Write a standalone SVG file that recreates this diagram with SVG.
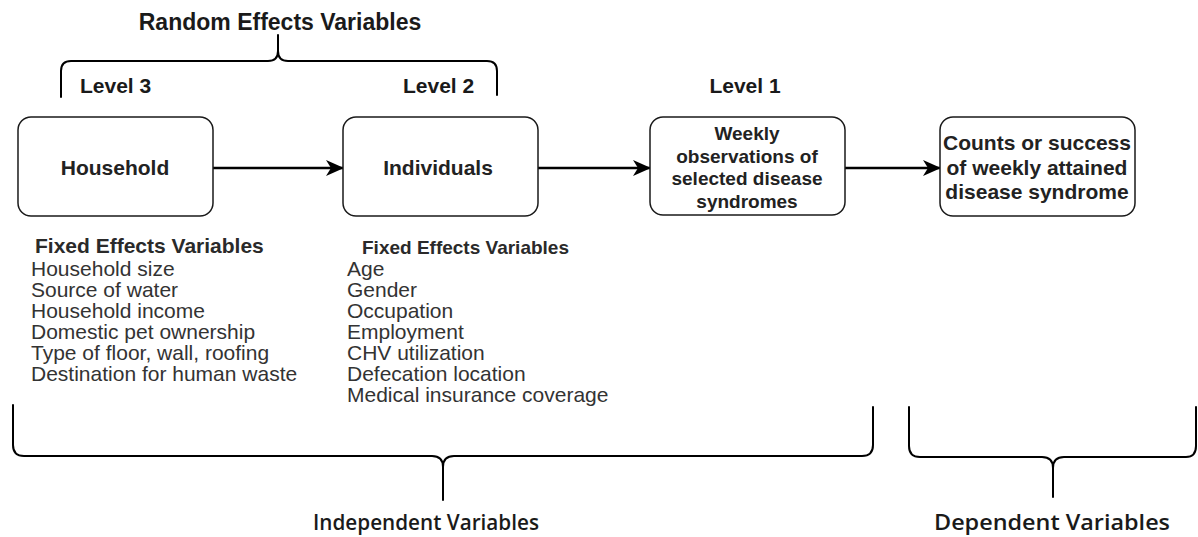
<svg xmlns="http://www.w3.org/2000/svg" width="1198" height="537" viewBox="0 0 1198 537">
<style>
  .bg { fill: #ffffff; }
  .box { fill: #ffffff; stroke: #1a1a1a; stroke-width: 1.5; }
  .edge { fill: none; stroke: #000000; stroke-width: 2.4; }
  .brace { fill: none; stroke: #000000; stroke-width: 2; stroke-linecap: round; stroke-linejoin: round; }
  .h { font-family: "Liberation Sans", Arial, sans-serif; font-weight: bold; fill: #1a1a1a; }
  .lbl { font-family: "Liberation Sans", Arial, sans-serif; font-weight: bold; fill: #222222; text-anchor: middle; }
  .list { font-family: "Liberation Sans", Arial, sans-serif; font-size: 21px; fill: #333333; }
  .fx { font-family: "Liberation Sans", Arial, sans-serif; font-weight: bold; fill: #2a2a2a; }
  .big { font-family: "Open Sans", "Noto Sans", sans-serif; font-weight: 600; font-size: 22px; fill: #1a1a1a; text-anchor: middle; }
</style>
<defs>
  <marker id="arr" viewBox="0 0 18 16" refX="17" refY="8" markerWidth="18" markerHeight="16" markerUnits="userSpaceOnUse" orient="auto">
    <path d="M0,0 L18,8 L0,16 L5,8 Z" fill="#000000"/>
  </marker>
</defs>
<rect class="bg" x="0" y="0" width="1198" height="537"/>

<g id="connectors">
  <line class="edge" x1="213" y1="168" x2="343" y2="168" marker-end="url(#arr)"/>
  <line class="edge" x1="538" y1="168" x2="650" y2="168" marker-end="url(#arr)"/>
  <line class="edge" x1="845" y1="168" x2="940" y2="168" marker-end="url(#arr)"/>
</g>

<g id="random-effects-brace">
  <path class="brace" d="M61,97 V71 Q61,61 71,61 H268 Q278,61 278,51 V35 M278,51 Q278,61 288,61 H487 Q497,61 497,71 V95"/>
  <text class="h" x="280" y="30" font-size="23" text-anchor="middle">Random Effects Variables</text>
</g>

<g id="level-labels">
  <text class="h" x="80" y="93" font-size="21">Level 3</text>
  <text class="h" x="403" y="93" font-size="21">Level 2</text>
  <text class="h" x="745" y="93" font-size="21" text-anchor="middle">Level 1</text>
</g>

<g id="node-household">
  <rect class="box" x="18" y="117" width="195" height="99" rx="13"/>
  <text class="lbl" x="115" y="175" font-size="21">Household</text>
</g>

<g id="node-individuals">
  <rect class="box" x="343" y="117" width="195" height="99" rx="13"/>
  <text class="lbl" x="438" y="175" font-size="21">Individuals</text>
</g>

<g id="node-weekly">
  <rect class="box" x="650" y="117" width="195" height="98" rx="13"/>
  <text class="lbl" x="747" y="140" font-size="19">Weekly</text>
  <text class="lbl" x="747" y="162.5" font-size="19">observations of</text>
  <text class="lbl" x="747" y="185" font-size="19">selected disease</text>
  <text class="lbl" x="747" y="207.5" font-size="19">syndromes</text>
</g>

<g id="node-counts">
  <rect class="box" x="940" y="117" width="195" height="99" rx="13"/>
  <text class="lbl" x="1037" y="150" font-size="21">Counts or success</text>
  <text class="lbl" x="1037" y="174.5" font-size="21">of weekly attained</text>
  <text class="lbl" x="1037" y="199" font-size="21">disease syndrome</text>
</g>

<g id="household-fixed-effects">
  <text class="fx" x="35" y="253" font-size="21">Fixed Effects Variables</text>
  <text class="list" x="31" y="276">Household size</text>
  <text class="list" x="31" y="297">Source of water</text>
  <text class="list" x="31" y="318">Household income</text>
  <text class="list" x="31" y="339">Domestic pet ownership</text>
  <text class="list" x="31" y="360">Type of floor, wall, roofing</text>
  <text class="list" x="31" y="381">Destination for human waste</text>
</g>

<g id="individual-fixed-effects">
  <text class="fx" x="362" y="254" font-size="19">Fixed Effects Variables</text>
  <text class="list" x="347" y="276">Age</text>
  <text class="list" x="347" y="297">Gender</text>
  <text class="list" x="347" y="318">Occupation</text>
  <text class="list" x="347" y="339">Employment</text>
  <text class="list" x="347" y="360">CHV utilization</text>
  <text class="list" x="347" y="381">Defecation location</text>
  <text class="list" x="347" y="402">Medical insurance coverage</text>
</g>

<g id="independent-brace">
  <path class="brace" d="M13,405 V445 Q13,456 24,456 H432 Q443,456 443,467 V500 M443,467 Q443,456 454,456 H862 Q873,456 873,445 V407"/>
  <text class="big" x="426" y="530" textLength="226" lengthAdjust="spacingAndGlyphs">Independent Variables</text>
</g>

<g id="dependent-brace">
  <path class="brace" d="M909,407 V446 Q909,457 920,457 H1042 Q1053,457 1053,468 V497 M1053,468 Q1053,457 1064,457 H1186 Q1196,457 1196,446 V407"/>
  <text class="big" x="1052" y="530" textLength="236" lengthAdjust="spacingAndGlyphs">Dependent Variables</text>
</g>
</svg>
